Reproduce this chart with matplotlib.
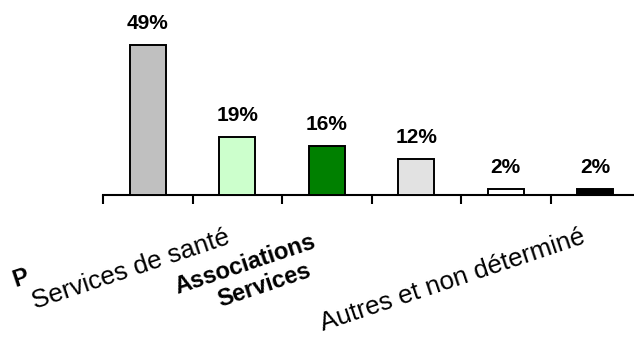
import matplotlib
matplotlib.use("Agg")
import matplotlib.pyplot as plt
import numpy as np

plt.rcParams['font.family'] = ['Liberation Sans', 'DejaVu Sans']

# Shares by category (%)
values = [49, 19, 16, 12, 2, 2]
bar_colors = ['#C0C0C0', '#CCFFCC', '#008000', '#E2E2E2', '#FFFFFF', '#000000']

# Category label pieces: (category index, text, weight, start offset in px from
# the category centre on the axis line)
label_parts = [
    (0, "P", 'bold', (-132, -92)),
    (1, "Services de santé", 'normal', (-202, -114)),
    (2, "Associations", 'bold', (-149, -99)),
    (2, "Services", 'bold', (-107, -112)),
    (5, "Autres et non déterminé", 'normal', (-272, -136)),
]

fig = plt.figure(figsize=(6.34, 3.37), dpi=100)
ax = fig.add_axes([0.1625, 0.42, 0.847, 0.58])

x = np.arange(len(values))
ax.bar(x, values, width=0.4, color=bar_colors, edgecolor='black',
       linewidth=1.4, zorder=3)

for xi, v in zip(x, values):
    ax.annotate(f"{v}%", xy=(xi, v), xytext=(0, 16), textcoords='offset pixels',
                ha='center', va='baseline', fontsize=15, fontweight='bold')

ax.set_xlim(-0.5, 5.5)
ax.set_ylim(0, 63.5)
for side in ['left', 'right', 'top']:
    ax.spines[side].set_visible(False)
ax.spines['bottom'].set_linewidth(1.5)
ax.set_yticks([])
ax.set_xticks(np.arange(len(values) + 1) - 0.5)
ax.set_xticklabels([])
ax.tick_params(axis='x', direction='out', length=6.5, width=1.5)

# rotated category labels
for i, txt, weight, (dx, dy) in label_parts:
    size = 17 if weight == 'bold' else 18.7
    ax.annotate(txt, xy=(i, 0), xycoords=('data', 'axes fraction'),
                xytext=(dx, dy), textcoords='offset pixels',
                rotation=18.5, rotation_mode='anchor', ha='left', va='baseline',
                fontsize=size, fontweight=weight, annotation_clip=False)

fig.savefig("out.png", dpi=100)
